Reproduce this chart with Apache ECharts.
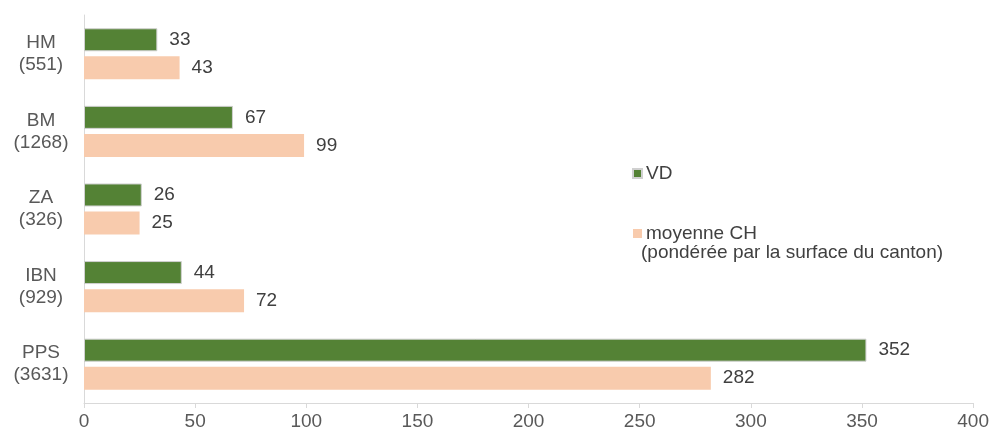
<!DOCTYPE html>
<html>
<head>
<meta charset="utf-8">
<script src="https://cdn.jsdelivr.net/npm/echarts@6/dist/echarts.min.js"></script>
<style>
  html, body { margin: 0; padding: 0; background: #fff; }
  #main { width: 992px; height: 432px; }
</style>
</head>
<body>
<div id="main"></div>
<script>
// categories (top to bottom), with the count in brackets
const categories = ['HM\n(551)', 'BM\n(1268)', 'ZA\n(326)', 'IBN\n(929)', 'PPS\n(3631)'];
const vdValues = [33, 67, 26, 44, 352];
const chValues = [43, 99, 25, 72, 282];
const xTicks = { min: 0, max: 400, interval: 50 };

const font = 'Liberation Sans, Arial, sans-serif';
const myChart = echarts.init(document.getElementById('main'));

const option = {
  animation: false,
  backgroundColor: '#fff',
  textStyle: { fontFamily: font },
  grid: { left: 84, right: 18, top: 15, bottom: 29, containLabel: false },
  legend: {
    orient: 'vertical',
    left: 632,
    top: 164,
    padding: 0,
    itemWidth: 9,
    itemHeight: 9,
    itemGap: 41,
    icon: 'rect',
    textStyle: { fontSize: 19, color: '#404040', fontFamily: font, padding: [0, 0, 0, -1] },
    data: ['VD', 'moyenne CH']
  },
  graphic: [{
    type: 'text',
    left: 641,
    top: 243,
    style: { text: '(pondérée par la surface du canton)', fontSize: 19, fill: '#404040', fontFamily: font }
  }],
  xAxis: {
    type: 'value',
    min: xTicks.min,
    max: xTicks.max,
    interval: xTicks.interval,
    splitLine: { show: false },
    axisLine: { show: true, lineStyle: { color: '#d9d9d9', width: 1 } },
    axisTick: { show: true, length: 5, lineStyle: { color: '#d9d9d9' } },
    axisLabel: { fontSize: 19, color: '#595959', margin: 9, fontFamily: font }
  },
  yAxis: {
    type: 'category',
    inverse: true,
    data: categories,
    axisLine: { show: true, lineStyle: { color: '#d9d9d9', width: 1 } },
    axisTick: { show: false },
    axisLabel: { fontSize: 19, color: '#595959', margin: 43, align: 'center', lineHeight: 22, fontFamily: font }
  },
  series: [
    {
      name: 'VD',
      type: 'bar',
      data: vdValues,
      barWidth: 23,
      barGap: '22%',
      itemStyle: { color: '#548235', borderColor: '#d0d0d0', borderWidth: 1 },
      label: { show: true, position: 'right', distance: 12, fontSize: 19, color: '#404040', fontFamily: font }
    },
    {
      name: 'moyenne CH',
      type: 'bar',
      data: chValues,
      barWidth: 23,
      itemStyle: { color: '#f8cbad' },
      label: { show: true, position: 'right', distance: 12, fontSize: 19, color: '#404040', fontFamily: font }
    }
  ]
};
myChart.setOption(option);
</script>
</body>
</html>
